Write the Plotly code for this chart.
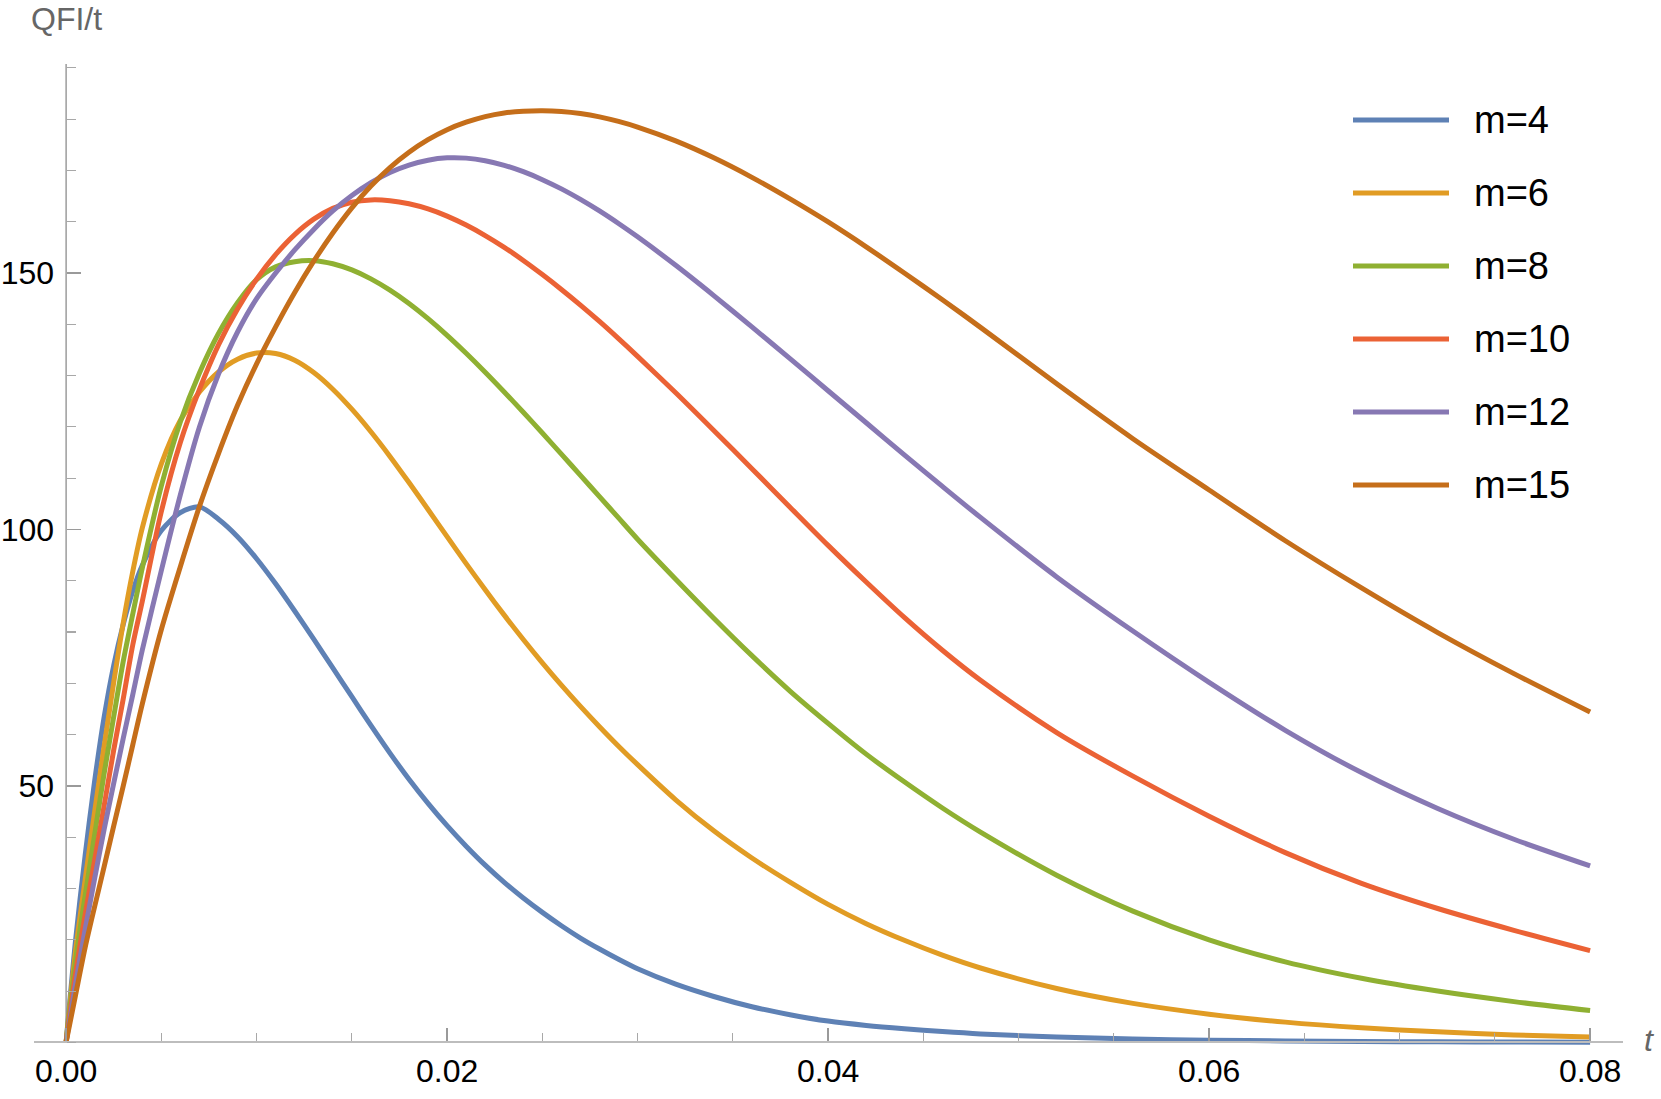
import plotly.graph_objects as go

# ---------------- data ----------------
t_vals = [0, 0.0005, 0.001, 0.0015, 0.002, 0.0025, 0.003, 0.0035, 0.004, 0.005,
          0.006, 0.007, 0.008, 0.009, 0.010, 0.011, 0.012, 0.013, 0.014, 0.015,
          0.016, 0.017, 0.018, 0.019, 0.020, 0.021, 0.022, 0.023, 0.024, 0.025,
          0.026, 0.027, 0.028, 0.029, 0.030, 0.032, 0.034, 0.036, 0.038, 0.040,
          0.042, 0.044, 0.046, 0.048, 0.052, 0.056, 0.060, 0.064, 0.068, 0.072,
          0.076, 0.080]

qfi_m4 = [0, 20.0, 36.5, 51.0, 63.5, 73.5, 81.5, 88.0, 93.0, 99.8,
          103.3, 104.4, 102.0, 98.6, 94.3, 89.4, 84.1, 78.6, 73.0, 67.4,
          61.8, 56.4, 51.3, 46.6, 42.25, 38.25, 34.55, 31.2, 28.15, 25.35,
          22.75, 20.35, 18.2, 16.2, 14.35, 11.35, 8.95, 6.95, 5.4, 4.15,
          3.3, 2.65, 2.1, 1.65, 1.05, 0.65, 0.42, 0.28, 0.18, 0.11,
          0.07, 0.05]

qfi_m6 = [0, 17.9, 31.7, 45.0, 57.8, 70.2, 81.8, 91.8, 100.3, 112.8,
          121.3, 126.8, 130.7, 133.2, 134.4, 134.3, 133.0, 130.6, 127.35, 123.45,
          119.05, 114.25, 109.15, 103.9, 98.6, 93.35, 88.25, 83.3, 78.55, 74.0,
          69.65, 65.5, 61.55, 57.75, 54.15, 47.3, 41.25, 35.95, 31.25, 26.9,
          23.15, 19.9, 17.0, 14.5, 10.5, 7.6, 5.5, 3.95, 2.85, 2.05,
          1.45, 1.05]

qfi_m8 = [0, 16.0, 28.6, 40.5, 52.5, 63.5, 74.3, 83.5, 92.5, 108.5,
          121.0, 130.5, 138.2, 144.2, 148.7, 151.2, 152.2, 152.4, 151.8, 150.6,
          148.85, 146.65, 144.05, 141.1, 137.85, 134.35, 130.65, 126.8, 122.85, 118.8,
          114.7, 110.55, 106.4, 102.25, 98.1, 90.3, 82.7, 75.4, 68.5, 62.2,
          56.2, 50.8, 45.7, 41.0, 32.6, 25.6, 20.0, 15.7, 12.5, 10.0,
          7.95, 6.2]

qfi_m10 = [0, 13.5, 24.9, 35.5, 46.2, 57.0, 67.0, 77.5, 86.0, 103.5,
           117.0, 127.3, 136.0, 143.0, 148.8, 153.6, 157.5, 160.5, 162.6, 163.8,
           164.25, 164.1, 163.5, 162.5, 161.1, 159.35, 157.3, 155.0, 152.45, 149.7,
           146.8, 143.75, 140.55, 137.2, 133.75, 126.65, 119.3, 111.85, 104.35, 96.9,
           89.75, 82.85, 76.45, 70.6, 60.4, 51.9, 44.1, 37.0, 31.0, 26.1,
           21.85, 17.9]

qfi_m12 = [0, 11.5, 22.0, 32.0, 41.6, 50.5, 59.3, 67.8, 76.5, 92.0,
           106.8, 120.0, 130.3, 138.5, 145.0, 150.0, 154.5, 158.5, 162.1, 165.1,
           167.6, 169.6, 171.05, 172.0, 172.45, 172.4, 171.9, 171.0, 169.75, 168.2,
           166.4, 164.35, 162.1, 159.65, 157.05, 151.5, 145.6, 139.5, 133.3, 127.05,
           120.8, 114.55, 108.4, 102.35, 90.75, 80.2, 70.2, 60.85, 52.6, 45.6,
           39.6, 34.4]

qfi_m15 = [0, 9.3, 18.5, 26.5, 34.3, 42.2, 50.0, 58.0, 66.0, 80.5,
           92.8, 104.5, 114.8, 124.2, 132.3, 139.5, 146.2, 152.3, 157.8, 162.7,
           166.95, 170.55, 173.55, 176.0, 177.95, 179.4, 180.5, 181.2, 181.55, 181.65,
           181.5, 181.1, 180.45, 179.55, 178.45, 175.75, 172.45, 168.65, 164.45, 159.95,
           155.1, 150.0, 144.8, 139.4, 128.4, 117.7, 107.7, 97.8, 88.6, 79.9,
           71.9, 64.4]

series_names = ["m=4", "m=6", "m=8", "m=10", "m=12", "m=15"]
series_values = [qfi_m4, qfi_m6, qfi_m8, qfi_m10, qfi_m12, qfi_m15]

x_tick_vals = [0.0, 0.02, 0.04, 0.06, 0.08]
x_tick_text = ["0.00", "0.02", "0.04", "0.06", "0.08"]
y_tick_vals = [50, 100, 150]
y_tick_text = ["50", "100", "150"]

# ---------------- style ----------------
colors = ["#5E81B5", "#E19C24", "#8FB032", "#EB6235", "#8778B3", "#C56E1A"]
FONT = "Liberation Sans, Arial, Helvetica, sans-serif"

W, H = 1661, 1099
ML, MT = 34, 64
PW, PH = 1589, 983
MR, MB = W - ML - PW, H - MT - PH

X_RANGE = [-0.001685, 0.081727]
Y_RANGE = [-0.9, 190.75]

def px_to_paper_x(px):
    return (px - ML) / PW

def px_to_paper_y(py):
    return (MT + PH - py) / PH

fig = go.Figure()
for name, vals, col in zip(series_names, series_values, colors):
    fig.add_trace(go.Scatter(
        x=t_vals, y=vals, mode="lines", name=name,
        line=dict(color=col, width=5, shape="spline", smoothing=0.8),
        showlegend=False, hoverinfo="skip"))

# y axis line from 0 upward (Mathematica-style axis)
fig.add_shape(type="line", xref="x", yref="y", x0=0, x1=0, y0=0, y1=Y_RANGE[1],
              line=dict(color="#8c8c8c", width=1.3), layer="below")

# manual legend with long line samples
leg_line_x0, leg_line_x1, leg_text_x = 1353, 1449, 1472
leg_row0, leg_step = 120, 73
for i, (name, col) in enumerate(zip(series_names, colors)):
    yc = leg_row0 + i * leg_step
    fig.add_shape(type="line", xref="paper", yref="paper",
                  x0=px_to_paper_x(leg_line_x0), x1=px_to_paper_x(leg_line_x1),
                  y0=px_to_paper_y(yc), y1=px_to_paper_y(yc),
                  line=dict(color=col, width=5))
    fig.add_annotation(xref="paper", yref="paper", x=px_to_paper_x(leg_text_x),
                       y=px_to_paper_y(yc), text=name, showarrow=False,
                       xanchor="left", yanchor="middle",
                       font=dict(family=FONT, size=38, color="black"))

# axis labels
fig.add_annotation(xref="paper", yref="paper", x=px_to_paper_x(66), y=px_to_paper_y(19),
                   text="QFI/t", showarrow=False, xanchor="center", yanchor="middle",
                   font=dict(family=FONT, size=32, color="#666666"))
fig.add_annotation(xref="paper", yref="paper", x=px_to_paper_x(1649), y=px_to_paper_y(1040),
                   text="<i>t</i>", showarrow=False, xanchor="center", yanchor="middle",
                   font=dict(family=FONT, size=32, color="#666666"))

fig.update_layout(
    width=W, height=H,
    margin=dict(l=ML, r=MR, t=MT, b=MB, pad=0, autoexpand=False),
    paper_bgcolor="white", plot_bgcolor="white",
    font=dict(family=FONT, size=32, color="black"),
    showlegend=False,
    xaxis=dict(
        range=X_RANGE, domain=[0, 1], anchor="free", automargin=False,
        position=(0 - Y_RANGE[0]) / (Y_RANGE[1] - Y_RANGE[0]),
        showgrid=False, zeroline=False,
        showline=True, linecolor="#bdbdbd", linewidth=2,
        tickmode="array", tickvals=x_tick_vals, ticktext=x_tick_text,
        ticks="inside", ticklen=13, tickwidth=1.3, tickcolor="#9a9a9a",
        tickfont=dict(family=FONT, size=32, color="black"),
        ticklabelstandoff=0,
        minor=dict(dtick=0.005, tick0=0, ticks="inside", ticklen=8,
                   tickwidth=1.1, tickcolor="#a8a8a8", showgrid=False),
    ),
    yaxis=dict(
        range=Y_RANGE, domain=[0, 1], anchor="free", automargin=False,
        position=(0 - X_RANGE[0]) / (X_RANGE[1] - X_RANGE[0]),
        showgrid=False, zeroline=False, showline=False,
        tickmode="array", tickvals=y_tick_vals, ticktext=y_tick_text,
        ticks="inside", ticklen=14, tickwidth=1.3, tickcolor="#9a9a9a",
        tickfont=dict(family=FONT, size=32, color="black"),
        ticklabelstandoff=12,
        minor=dict(dtick=10, tick0=0, ticks="inside", ticklen=9,
                   tickwidth=1.1, tickcolor="#a8a8a8", showgrid=False),
    ),
)

# remove the browser's default body margin so the figure fills the window exactly
fig.write_html("out.html",
               config={"displayModeBar": False, "staticPlot": True},
               post_script="document.body.style.margin='0';document.body.style.overflow='hidden';")
